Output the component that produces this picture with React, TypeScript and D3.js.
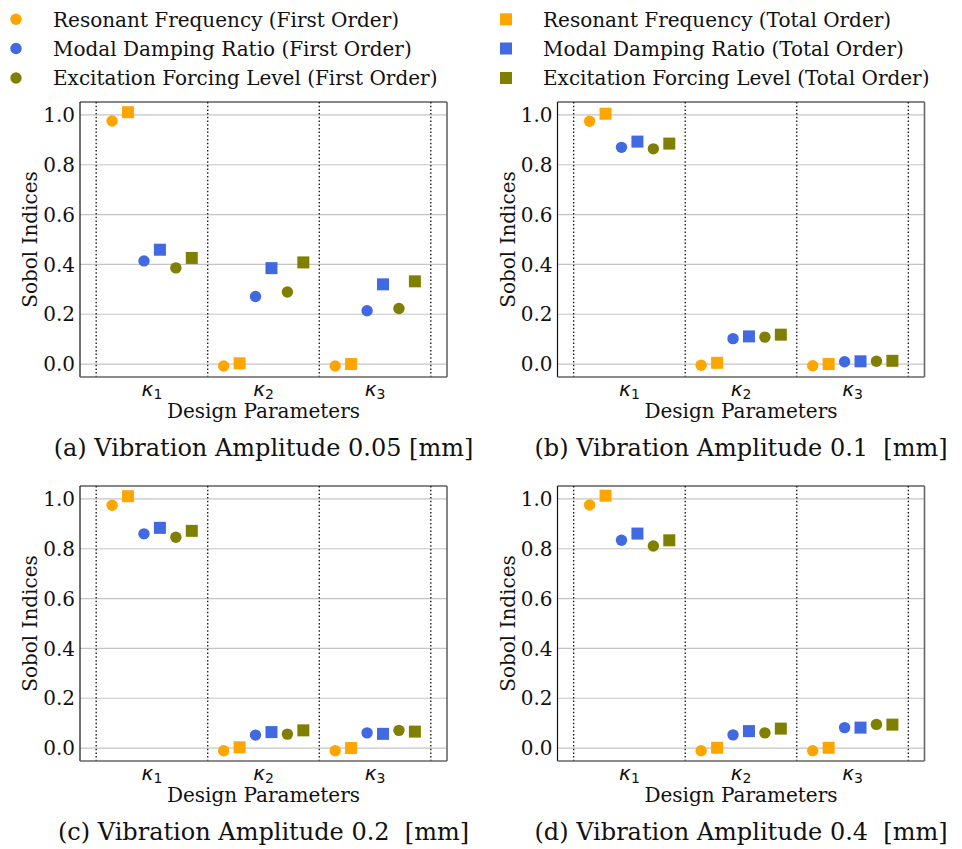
import React from "react";
import * as d3 from "d3";

// ---- data ----
const categories = ["1", "2", "3"]; // subscripts of κ
const quantities = ["Resonant Frequency", "Modal Damping Ratio", "Excitation Forcing Level"];
const orders = ["First Order", "Total Order"];
const yTicks = [0.0, 0.2, 0.4, 0.6, 0.8, 1.0];
const panelCaptions = [
  "(a) Vibration Amplitude 0.05 [mm]",
  "(b) Vibration Amplitude 0.1  [mm]",
  "(c) Vibration Amplitude 0.2  [mm]",
  "(d) Vibration Amplitude 0.4  [mm]",
];

// rows: quantity; columns: κ1, κ2, κ3
const firstOrderA = [
  [0.976, -0.008, -0.008],
  [0.414, 0.271, 0.214],
  [0.386, 0.289, 0.223],
];
const totalOrderA = [
  [1.011, 0.003, 0.0],
  [0.459, 0.385, 0.32],
  [0.426, 0.408, 0.332],
];
const firstOrderB = [
  [0.975, -0.005, -0.007],
  [0.87, 0.102, 0.009],
  [0.864, 0.108, 0.011],
];
const totalOrderB = [
  [1.005, 0.005, 0.0],
  [0.893, 0.111, 0.011],
  [0.885, 0.118, 0.013],
];
const firstOrderC = [
  [0.975, -0.011, -0.011],
  [0.86, 0.052, 0.061],
  [0.846, 0.056, 0.071],
];
const totalOrderC = [
  [1.011, 0.003, 0.0],
  [0.884, 0.064, 0.057],
  [0.872, 0.071, 0.066],
];
const firstOrderD = [
  [0.976, -0.011, -0.011],
  [0.834, 0.053, 0.082],
  [0.811, 0.061, 0.095],
];
const totalOrderD = [
  [1.013, 0.001, 0.001],
  [0.861, 0.068, 0.082],
  [0.834, 0.078, 0.094],
];

const panelFirst = [firstOrderA, firstOrderB, firstOrderC, firstOrderD];
const panelTotal = [totalOrderA, totalOrderB, totalOrderC, totalOrderD];

// ---- styles ----
const colors = ["#FFA500", "#4169E1", "#808000"];
const SERIF = "'DejaVu Serif', serif";
const SANS = "'DejaVu Sans', sans-serif";
const PW = 367;
const PH = 275;
const panelOrigins = [
  [80, 102],
  [557.5, 102],
  [80, 486],
  [557.5, 486],
];
const R = 5.7;
const SQ = 12;
const FS = 20;

function Panel({ idx }: { idx: number }) {
  const [ox, oy] = panelOrigins[idx];
  const x = d3.scaleLinear().domain([-0.645, 2.645]).range([0, PW]);
  const y = d3.scaleLinear().domain([-0.052, 1.052]).range([PH, 0]);
  const first = panelFirst[idx];
  const total = panelTotal[idx];
  const sepLines = [-0.5, 0.5, 1.5, 2.5];
  const marks: any[] = [];
  quantities.forEach((_, q) => {
    categories.forEach((_, c) => {
      [first, total].forEach((data, o) => {
        const s = q * 2 + o;
        const cx = x(c + (s - 2.5) / 7);
        const cy = y(data[q][c]);
        if (o === 0)
          marks.push(<circle key={`${q}-${c}-${o}`} cx={cx} cy={cy} r={R} fill={colors[q]} />);
        else
          marks.push(
            <rect key={`${q}-${c}-${o}`} x={cx - SQ / 2} y={cy - SQ / 2} width={SQ} height={SQ} fill={colors[q]} />
          );
      });
    });
  });
  return (
    <g transform={`translate(${ox},${oy})`}>
      {yTicks.map((t) => (
        <g key={t}>
          <line x1={0} x2={PW} y1={y(t)} y2={y(t)} stroke="#c4c4c4" strokeWidth={1.2} />
          <text x={-5} y={y(t)} dy="0.36em" textAnchor="end" fontFamily={SERIF} fontSize={FS} fill="#111">
            {t.toFixed(1)}
          </text>
        </g>
      ))}
      {sepLines.map((v) => (
        <line key={v} x1={x(v)} x2={x(v)} y1={0} y2={PH} stroke="#111" strokeWidth={1.3} strokeDasharray="1.5,2.2" />
      ))}
      {marks}
      <line x1={0} x2={PW} y1={0} y2={0} stroke="#111" strokeWidth={1.2} />
      <line x1={0} x2={0} y1={0} y2={PH} stroke="#111" strokeWidth={1.2} />
      <line x1={0} x2={PW} y1={PH} y2={PH} stroke="#666" strokeWidth={1.6} />
      <line x1={PW} x2={PW} y1={0} y2={PH} stroke="#666" strokeWidth={1.6} />
      {categories.map((c, i) => (
        <text key={c} x={x(i)} y={PH + 19} textAnchor="middle" fontFamily={SANS} fontSize={FS} fill="#111">
          <tspan fontStyle="italic">κ</tspan>
          <tspan fontSize={14} dy={3}>{c}</tspan>
        </text>
      ))}
      <text x={PW / 2} y={PH + 41} textAnchor="middle" fontFamily={SERIF} fontSize={FS} fill="#111">
        Design Parameters
      </text>
      <text
        transform={`translate(${-50},${PH / 2}) rotate(-90)`}
        textAnchor="middle"
        dy="0.35em"
        fontFamily={SERIF}
        fontSize={FS}
        fill="#111"
      >
        Sobol Indices
      </text>
      <text x={PW / 2} y={PH + 79} textAnchor="middle" fontFamily={SERIF} fontSize={24} fill="#111" style={{ whiteSpace: "pre" }}>
        {panelCaptions[idx]}
      </text>
    </g>
  );
}

function Legend() {
  const rowsY = [19.3, 48.5, 78];
  return (
    <g>
      {quantities.map((q, i) => (
        <g key={q}>
          <circle cx={16} cy={rowsY[i]} r={R} fill={colors[i]} />
          <text x={53} y={rowsY[i]} dy="0.36em" fontFamily={SERIF} fontSize={FS} fill="#111">
            {`${q} (${orders[0]})`}
          </text>
          <rect x={506 - SQ / 2} y={rowsY[i] - SQ / 2} width={SQ} height={SQ} fill={colors[i]} />
          <text x={543} y={rowsY[i]} dy="0.36em" fontFamily={SERIF} fontSize={FS} fill="#111">
            {`${q} (${orders[1]})`}
          </text>
        </g>
      ))}
    </g>
  );
}

export default function App() {
  return (
    <svg
      width={962}
      height={849}
      style={{ position: "absolute", left: 0, top: 0, background: "#fff" }}
    >
      <rect width={962} height={849} fill="#fff" />
      <Legend />
      {[0, 1, 2, 3].map((i) => (
        <Panel key={i} idx={i} />
      ))}
    </svg>
  );
}
